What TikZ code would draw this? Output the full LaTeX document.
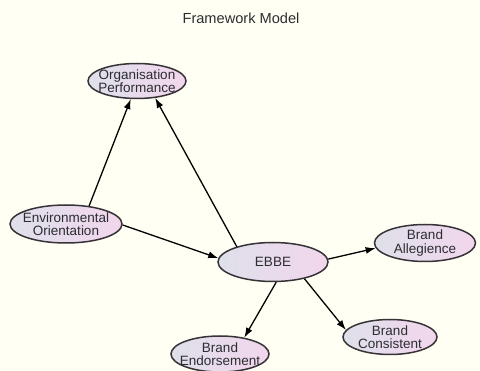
\documentclass[tikz,border=0pt]{standalone}
\usepackage{fontspec}
\setmainfont{Liberation Sans}
\usetikzlibrary{shapes.geometric,arrows.meta}
\definecolor{bg}{RGB}{255,255,243}
\definecolor{txt}{RGB}{45,45,50}
\definecolor{edge}{RGB}{55,50,55}
\definecolor{lft}{RGB}{222,224,234}
\definecolor{rgt}{RGB}{242,214,236}
\tikzset{
  ent/.style={ellipse, draw=edge, line width=1.5pt, left color=lft, right color=rgt,
    inner xsep=-6pt, inner ysep=-3pt, align=center, text=txt, font=\fontsize{13.5}{13.5}\selectfont},
  arr/.style={-{Latex[length=10pt,width=7pt]}, line width=1.3pt, black},
}
\begin{document}
\begin{tikzpicture}[x=1pt,y=-1pt]
\useasboundingbox (0,0) rectangle (480,371);
\fill[bg] (0,0) rectangle (480,371);
\node[text=txt, font=\fontsize{14.6}{15}\selectfont] (title) at (241,18) {Framework Model};
\node[ent, minimum width=98pt, minimum height=35pt] (op) at (137,81) {Organisation\\Performance};
\node[ent, minimum width=112pt, minimum height=38pt] (eo) at (66,224) {Environmental\\Orientation};
\node[ent, minimum width=110pt, minimum height=39pt] (ebbe) at (273,262) {EBBE};
\node[ent, minimum width=101pt, minimum height=37pt] (ba) at (425,243) {Brand\\Allegience};
\node[ent, minimum width=98pt, minimum height=36pt] (be) at (220,354) {Brand\\Endorsement};
\node[ent, minimum width=94pt, minimum height=35pt] (bc) at (390,337) {Brand\\Consistent};
\draw[arr] (eo.38) -- (op.251);
\draw[arr] (ebbe.157) -- (op.317);
\draw[arr] (eo.359) -- (ebbe.176);
\draw[arr] (ebbe.3) -- (ba.186);
\draw[arr] (ebbe.279) -- (be.34);
\draw[arr] (ebbe.332) -- (bc.171);
\end{tikzpicture}
\end{document}
